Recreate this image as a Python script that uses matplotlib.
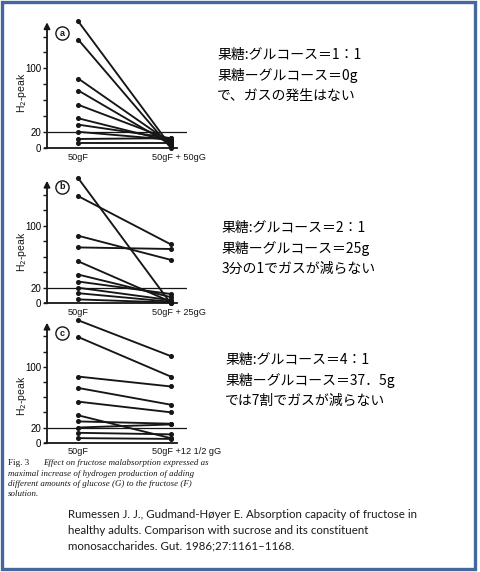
import matplotlib
matplotlib.use('Agg')
import matplotlib.pyplot as plt
from matplotlib.patches import Rectangle

# H2-peak values (left = 50gF, right = 50gF + glucose)
left_a = [159, 136, 87, 72, 54, 37, 29, 20, 11, 6]
right_a = [2, 0, 6, 4, 10, 8, 12, 10, 12, 6]

left_b = [161, 138, 87, 72, 54, 37, 28, 20, 13, 5]
right_b = [0, 76, 56, 70, 2, 8, 12, 4, 2, 1]

left_c = [161, 139, 87, 72, 54, 36, 28, 20, 13, 6]
right_c = [114, 87, 74, 50, 40, 6, 25, 24, 11, 5]

x_labels_a = ['50gF', '50gF + 50gG']
x_labels_b = ['50gF', '50gF + 25gG']
x_labels_c = ['50gF', '50gF +12 1/2 gG']

y_ticks = [0, 20, 40, 60, 80, 100, 120, 140]
y_ticklabels = ['0', '20', '', '', '', '100', '', '']

notes_a = ['果糖:グルコース＝1：1', '果糖ーグルコース＝0g', 'で、ガスの発生はない']
notes_b = ['果糖:グルコース＝2：1', '果糖ーグルコース＝25g', '3分の1でガスが減らない']
notes_c = ['果糖:グルコース＝4：1', '果糖ーグルコース＝37．5g', 'では7割でガスが減らない']

caption = ['Effect on fructose malabsorption expressed as',
           'maximal increase of hydrogen production of adding',
           'different amounts of glucose (G) to the fructose (F)',
           'solution.']
citation = ['Rumessen J. J., Gudmand-Høyer E. Absorption capacity of fructose in',
            'healthy adults. Comparison with sucrose and its constituent',
            'monosaccharides. Gut. 1986;27:1161–1168.']

W, H = 480, 572
dpi = 100
ink = '#161616'
jp_font = ['Noto Sans CJK JP', 'DejaVu Sans']
fig_font = 'Liberation Sans'

fig = plt.figure(figsize=(W / dpi, H / dpi), dpi=dpi)
fig.patch.set_facecolor('white')


def fy(py):
    return 1 - py / H


XLO, XHI, YTOP = -0.339, 1.18, 162
X_UNIT = 92.4  # px per x unit


def add_panel(letter, left_vals, right_vals, labels, y0, scale, ylab_y, circ_y):
    ax = fig.add_axes([47 / W, fy(y0), (XHI - XLO) * X_UNIT / W, YTOP * scale / H])
    ax.set_xlim(XLO, XHI)
    ax.set_ylim(0, YTOP)
    ax.patch.set_alpha(0)

    for l, r in zip(left_vals, right_vals):
        ax.plot([0, 1], [l, r], color=ink, lw=1.35, marker='o', ms=2.6,
                solid_capstyle='round', clip_on=False, zorder=3)
    ax.hlines(20, XLO, XHI, color=ink, lw=0.9, zorder=2)

    for s in ['top', 'right', 'left']:
        ax.spines[s].set_visible(False)
    ax.spines['bottom'].set_bounds(XLO - 0.02, 1.065)
    ax.spines['bottom'].set_linewidth(1.3)
    ax.spines['bottom'].set_color(ink)

    # y axis drawn as an arrow
    ax.annotate('', xy=(0, 0.975), xycoords='axes fraction', xytext=(0, 0),
                arrowprops=dict(arrowstyle='-|>', color=ink, lw=1.3,
                                mutation_scale=9, shrinkA=0, shrinkB=0))

    ax.set_xticks([])
    ax.set_yticks(y_ticks)
    ax.set_yticklabels(y_ticklabels, family=fig_font, fontsize=7)
    ax.tick_params(axis='y', direction='out', length=3, width=1, color=ink, pad=1)

    ax.text(0, -12, labels[0], ha='center', va='center', fontsize=6.6,
            family=fig_font, color=ink)
    ax.text(0.8, -12, labels[1], ha='left', va='center', fontsize=6.6,
            family=fig_font, color=ink)

    # circled panel letter
    ax.plot([-0.176], [circ_y], marker='o', ms=9.5, mfc='white', mec=ink,
            mew=1.0, clip_on=False, zorder=4)
    ax.text(-0.176, circ_y, letter, ha='center', va='center', fontsize=6.5,
            family=fig_font, fontweight='bold', color=ink, zorder=5)

    fig.text(22 / W, fy(ylab_y), r'H$_2$-peak', rotation=90, ha='center',
             va='center', fontsize=7.5, family=fig_font, color=ink)
    return ax


add_panel('a', left_a, right_a, x_labels_a, 147.7, 0.794, 93, 144)
add_panel('b', left_b, right_b, x_labels_b, 303.3, 0.776, 252, 150)
add_panel('c', left_c, right_c, x_labels_c, 442.7, 0.760, 396, 144)

# Japanese notes
for notes, x0, y0 in [(notes_a, 217, 55), (notes_b, 222, 228), (notes_c, 225, 360)]:
    for i, line in enumerate(notes):
        fig.text(x0 / W, fy(y0 + i * 20.5), line, family=jp_font, fontsize=10,
                 ha='left', va='center', color='black')

# figure caption of the original paper
fig.text(8 / W, fy(463), 'Fig. 3', family='Liberation Serif', fontsize=6.6,
         ha='left', va='center', color=ink)
for i, line in enumerate(caption):
    x0 = 43 if i == 0 else 8
    fig.text(x0 / W, fy(463 + i * 10.5), line, family='Liberation Serif',
             style='italic', fontsize=6.4, ha='left', va='center', color=ink)

# citation
for i, line in enumerate(citation):
    fig.text(68 / W, fy(514 + i * 16), line, family='Lato', fontsize=8.3,
             ha='left', va='center', color='#1a1a1a')

# blue frame
fig.patches.append(Rectangle((1.5 / W, 1 - 568.5 / H), 473 / W, 567 / H,
                             transform=fig.transFigure, fill=False,
                             ec='#44679e', lw=2.4, zorder=10))

fig.savefig('out.png', dpi=dpi)
